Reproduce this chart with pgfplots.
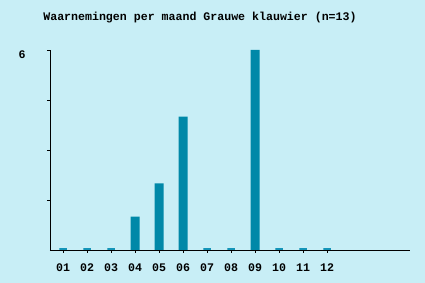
\documentclass[border=0pt]{standalone}
\usepackage{pgfplots}
\pgfplotsset{compat=1.18}
\usepackage{fontspec}
\setmainfont{Liberation Mono}
\definecolor{bg}{HTML}{C8EEF6}
\definecolor{barc}{HTML}{0088A8}
\definecolor{stub}{HTML}{1494B8}
\begin{document}
\begin{tikzpicture}
\fill[bg] (0,0) rectangle (425bp,283bp);
\begin{axis}[
  at={(50bp,33bp)}, anchor=south west,
  scale only axis, width=360bp, height=200bp,
  xmin=0.458, xmax=15.458, ymin=0, ymax=6,
  axis lines=left, axis line style={-, line width=0.8pt, black},
  xtick={1,...,12},
  xticklabels={01,02,03,04,05,06,07,08,09,10,11,12},
  ytick={1.5,3,4.5,6}, yticklabels={,,,6},
  tick align=outside, tick style={black, line width=0.8pt},
  major tick length=3bp,
  tick label style={font=\fontsize{11.6bp}{12bp}\selectfont\bfseries},
  /pgf/number format/assume math mode=true,
  yticklabel style={yshift=-5bp, xshift=-18bp},
  xticklabel style={yshift=-7bp},
  title={\fontsize{11.6bp}{12bp}\selectfont\bfseries Waarnemingen per maand Grauwe klauwier (n=13)},
  every axis title/.style={anchor=west, inner sep=0pt, at={(axis description cs:-0.019,1.16)}},
  clip=false,
]
\addplot[ybar, bar width=7.5bp, bar shift=0pt, draw=stub, line width=1.6bp, fill=stub, yshift=1.2bp]
  coordinates {(1,0) (2,0) (3,0) (7,0) (8,0) (10,0) (11,0) (12,0)};
\addplot[ybar, bar width=9bp, bar shift=0pt, draw=none, fill=barc]
  coordinates {(4,1) (5,2) (6,4) (9,6)};
\end{axis}
\end{tikzpicture}
\end{document}
